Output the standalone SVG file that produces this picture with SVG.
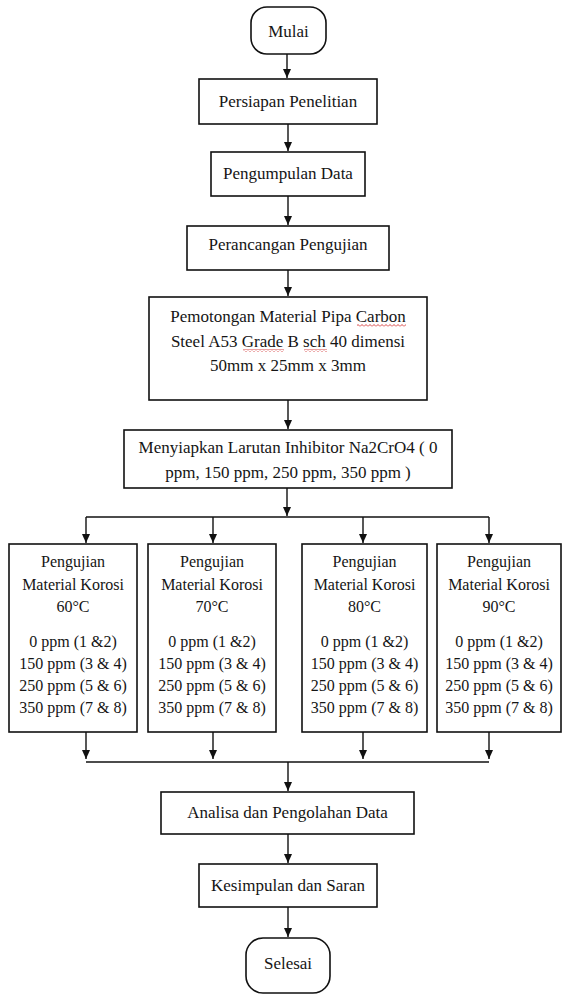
<svg xmlns="http://www.w3.org/2000/svg" width="563" height="996" viewBox="0 0 563 996">
<style>
.box{fill:#fff;stroke:#111;stroke-width:1.6}
.t{font-family:"Liberation Serif","Times New Roman",serif;font-size:17px;fill:#151515;text-anchor:middle}
.s{font-size:16px}
.c{stroke:#111;stroke-width:1.4;fill:none}
.a{marker-end:url(#ah)}
</style>
<defs>
<marker id="ah" markerUnits="userSpaceOnUse" markerWidth="8" markerHeight="9" refX="3.5" refY="9" orient="auto-start-reverse" viewBox="0 0 7 9">
<path d="M0 0 L7 0 L3.5 9 Z" fill="#111" transform="rotate(-90 3.5 4.5) translate(-1 1)"/>
</marker>
<marker id="ad" markerUnits="userSpaceOnUse" markerWidth="8" markerHeight="9" refX="4" refY="9" orient="0" viewBox="0 0 8 9">
<path d="M0 0 L8 0 L4 9 Z" fill="#111"/>
</marker>
<pattern id="sq" width="4" height="3" patternUnits="userSpaceOnUse">
<path d="M0 2.5 L2 0.5 L4 2.5" fill="none" stroke="#d23030" stroke-width="0.9"/>
</pattern>
</defs>
<rect width="563" height="996" fill="#fff"/>

<g id="connectors">
<path class="c" d="M287 54 V78" marker-end="url(#ad)"/>
<path class="c" d="M288 124 V151" marker-end="url(#ad)"/>
<path class="c" d="M288 196 V225" marker-end="url(#ad)"/>
<path class="c" d="M288 270 V296" marker-end="url(#ad)"/>
<path class="c" d="M288 400 V429" marker-end="url(#ad)"/>
<path class="c" d="M287 488 V516" marker-end="url(#ad)"/>
<path class="c" d="M86 517 H489"/>
<path class="c" d="M86 517 V543" marker-end="url(#ad)"/>
<path class="c" d="M213 517 V543" marker-end="url(#ad)"/>
<path class="c" d="M363 517 V543" marker-end="url(#ad)"/>
<path class="c" d="M489 517 V543" marker-end="url(#ad)"/>
<path class="c" d="M86 732 V759" marker-end="url(#ad)"/>
<path class="c" d="M213 732 V759" marker-end="url(#ad)"/>
<path class="c" d="M363 732 V759" marker-end="url(#ad)"/>
<path class="c" d="M489 732 V759" marker-end="url(#ad)"/>
<path class="c" d="M86 762 H489"/>
<path class="c" d="M288 762 V791" marker-end="url(#ad)"/>
<path class="c" d="M288 834 V863" marker-end="url(#ad)"/>
<path class="c" d="M288 907 V937" marker-end="url(#ad)"/>
</g>

<g id="mulai">
<rect class="box" x="251" y="7" width="75" height="47" rx="16" ry="16"/>
<text class="t" x="288.5" y="37">Mulai</text>
</g>

<g id="persiapan">
<rect class="box" x="199" y="79" width="178" height="45"/>
<text class="t" x="288" y="107">Persiapan Penelitian</text>
</g>

<g id="pengumpulan">
<rect class="box" x="211" y="152" width="154" height="44"/>
<text class="t" x="288" y="179">Pengumpulan Data</text>
</g>

<g id="perancangan">
<rect class="box" x="187" y="226" width="202" height="44"/>
<text class="t" x="288" y="250">Perancangan Pengujian</text>
</g>

<g id="pemotongan">
<rect class="box" x="149" y="297" width="278" height="103"/>
<text class="t" x="288" y="322">Pemotongan Material Pipa Carbon</text>
<text class="t" x="288" y="347">Steel A53 Grade B sch 40 dimensi</text>
<text class="t" x="288" y="371">50mm x 25mm x 3mm</text>
<rect x="357" y="324" width="49" height="3" fill="url(#sq)"/>
<rect x="243" y="349" width="41" height="3" fill="url(#sq)"/>
<rect x="304" y="349" width="23" height="3" fill="url(#sq)"/>
</g>

<g id="menyiapkan">
<rect class="box" x="124" y="430" width="328" height="58"/>
<text class="t" x="288" y="453">Menyiapkan Larutan Inhibitor Na2CrO4 ( 0</text>
<text class="t" x="288" y="478">ppm, 150 ppm, 250 ppm, 350 ppm )</text>
</g>

<g id="uji60">
<rect class="box" x="9" y="544" width="128" height="188"/>
<text class="t s" x="73" y="567">Pengujian</text>
<text class="t s" x="73" y="590">Material Korosi</text>
<text class="t s" x="73" y="612">60°C</text>
<text class="t s" x="73" y="647">0 ppm (1 &amp;2)</text>
<text class="t s" x="73" y="669">150 ppm (3 &amp; 4)</text>
<text class="t s" x="73" y="691">250 ppm (5 &amp; 6)</text>
<text class="t s" x="73" y="713">350 ppm (7 &amp; 8)</text>
</g>

<g id="uji70">
<rect class="box" x="148" y="544" width="128" height="188"/>
<text class="t s" x="212" y="567">Pengujian</text>
<text class="t s" x="212" y="590">Material Korosi</text>
<text class="t s" x="212" y="612">70°C</text>
<text class="t s" x="212" y="647">0 ppm (1 &amp;2)</text>
<text class="t s" x="212" y="669">150 ppm (3 &amp; 4)</text>
<text class="t s" x="212" y="691">250 ppm (5 &amp; 6)</text>
<text class="t s" x="212" y="713">350 ppm (7 &amp; 8)</text>
</g>

<g id="uji80">
<rect class="box" x="302" y="544" width="125" height="188"/>
<text class="t s" x="364.5" y="567">Pengujian</text>
<text class="t s" x="364.5" y="590">Material Korosi</text>
<text class="t s" x="364.5" y="612">80°C</text>
<text class="t s" x="364.5" y="647">0 ppm (1 &amp;2)</text>
<text class="t s" x="364.5" y="669">150 ppm (3 &amp; 4)</text>
<text class="t s" x="364.5" y="691">250 ppm (5 &amp; 6)</text>
<text class="t s" x="364.5" y="713">350 ppm (7 &amp; 8)</text>
</g>

<g id="uji90">
<rect class="box" x="437" y="544" width="124" height="188"/>
<text class="t s" x="499" y="567">Pengujian</text>
<text class="t s" x="499" y="590">Material Korosi</text>
<text class="t s" x="499" y="612">90°C</text>
<text class="t s" x="499" y="647">0 ppm (1 &amp;2)</text>
<text class="t s" x="499" y="669">150 ppm (3 &amp; 4)</text>
<text class="t s" x="499" y="691">250 ppm (5 &amp; 6)</text>
<text class="t s" x="499" y="713">350 ppm (7 &amp; 8)</text>
</g>

<g id="analisa">
<rect class="box" x="161" y="792" width="253" height="42"/>
<text class="t" x="287.5" y="818">Analisa dan Pengolahan Data</text>
</g>

<g id="kesimpulan">
<rect class="box" x="199" y="864" width="178" height="43"/>
<text class="t" x="288" y="891">Kesimpulan dan Saran</text>
</g>

<g id="selesai">
<rect class="box" x="246" y="938" width="84" height="55" rx="17" ry="17"/>
<text class="t" x="288" y="969">Selesai</text>
</g>
</svg>
